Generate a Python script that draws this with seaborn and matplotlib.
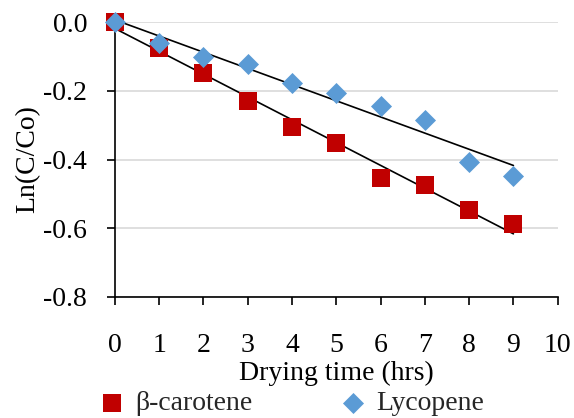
import numpy as np
import pandas as pd
import matplotlib
matplotlib.use("Agg")
import matplotlib.pyplot as plt
import seaborn as sns

hours = [0, 1, 2, 3, 4, 5, 6, 7, 8, 9]
beta_carotene = [0.0, -0.075, -0.147, -0.229, -0.306, -0.353, -0.455, -0.474, -0.547, -0.588]
lycopene = [0.0, -0.062, -0.101, -0.123, -0.177, -0.207, -0.244, -0.285, -0.408, -0.448]
x_ticks = [0, 1, 2, 3, 4, 5, 6, 7, 8, 9, 10]
y_ticks = [-0.8, -0.6, -0.4, -0.2, 0.0]

sns.set_theme(style="white")
FONT = ["Liberation Serif", "DejaVu Serif"]
plt.rcParams["font.family"] = FONT
plt.rcParams["axes.unicode_minus"] = False

fig = plt.figure(figsize=(5.74, 4.18), dpi=100)
ax = fig.add_axes([0.2, 0.2895, 0.7716, 0.6578])

for vals in [beta_carotene, lycopene]:
    sns.regplot(x=hours, y=vals, ax=ax, scatter=False, ci=None, truncate=True,
                line_kws=dict(color="black", lw=1.2, zorder=2))

sns.scatterplot(x=hours, y=beta_carotene, marker="s", color="#C00000", s=165,
                linewidth=0, ax=ax, zorder=3, clip_on=False, label="β-carotene")
sns.scatterplot(x=hours, y=lycopene, marker="D", color="#5B9BD5", s=115,
                linewidth=0, ax=ax, zorder=4, clip_on=False, label="Lycopene")

handles, labels = ax.get_legend_handles_labels()
if ax.get_legend() is not None:
    ax.get_legend().remove()

ax.set_xlim(0, 10)
ax.set_ylim(-0.8, 0.0)
ax.set_xticks(x_ticks)
ax.set_xticklabels([str(v) for v in x_ticks], fontfamily=FONT, fontsize=20)
ax.set_yticks(y_ticks)
ax.set_yticklabels([f"{v:.1f}" for v in y_ticks], fontfamily=FONT, fontsize=20)
ax.grid(axis="y", color="#d9d9d9", lw=1.2)
ax.grid(axis="x", visible=False)
ax.set_axisbelow(True)
for s in ["top", "right"]:
    ax.spines[s].set_visible(False)
for s in ["left", "bottom"]:
    ax.spines[s].set_color("black")
    ax.spines[s].set_linewidth(1.2)
ax.tick_params(axis="both", direction="out", length=6, width=1.2, color="black",
               colors="black")
ax.tick_params(axis="x", pad=20, bottom=True)
ax.tick_params(axis="y", pad=14, left=True)
ax.set_xlabel("Drying time (hrs)", fontsize=20, labelpad=2, color="black", fontfamily=FONT)
ax.set_ylabel("Ln(C/Co)", fontsize=20, labelpad=2, color="black", fontfamily=FONT)

fig.legend(handles, labels, loc="lower center", bbox_to_anchor=(0.505, -0.055), ncol=2,
           frameon=False, prop={"family": FONT, "size": 20}, columnspacing=3.0,
           handletextpad=0.25, handlelength=1.2)

fig.savefig("out.png", dpi=100)
